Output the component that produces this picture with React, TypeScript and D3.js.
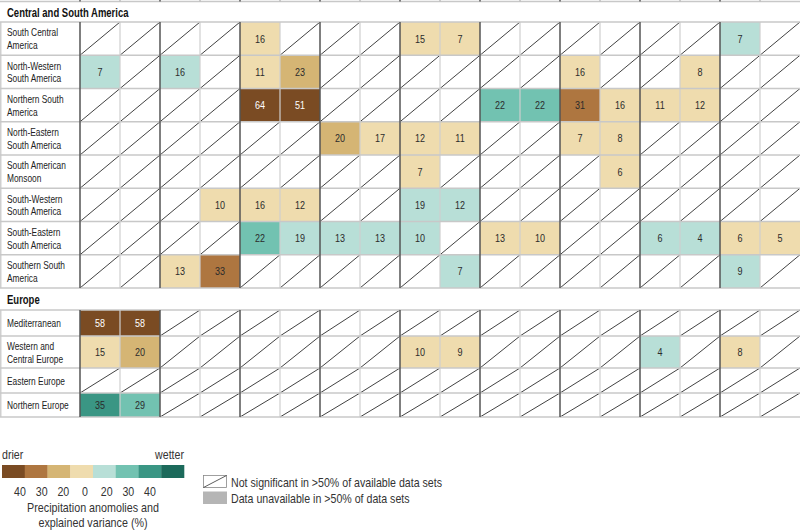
import React, { useEffect, useRef } from "react";
import * as d3 from "d3";

// signed values: negative = drier, positive = wetter, null = not significant
const southCentralAmerica = [null, null, null, null, -16, null, null, null, -15, -7, null, null, null, null, null, null, 7, null];
const northWesternSouthAmerica = [7, null, 16, null, -11, -23, null, null, null, null, null, null, -16, null, null, -8, null, null];
const northernSouthAmerica = [null, null, null, null, -64, -51, null, null, null, null, 22, 22, -31, -16, -11, -12, null, null];
const northEasternSouthAmerica = [null, null, null, null, null, null, -20, -17, -12, -11, null, null, -7, -8, null, null, null, null];
const southAmericanMonsoon = [null, null, null, null, null, null, null, null, -7, null, null, null, null, -6, null, null, null, null];
const southWesternSouthAmerica = [null, null, null, -10, -16, -12, null, null, 19, 12, null, null, null, null, null, null, null, null];
const southEasternSouthAmerica = [null, null, null, null, 22, 19, 13, 13, 10, null, -13, -10, null, null, 6, 4, -6, -5];
const southernSouthAmerica = [null, null, -13, -33, null, null, null, null, null, 7, null, null, null, null, null, null, 9, null];

const mediterranean = [-58, -58, null, null, null, null, null, null, null, null, null, null, null, null, null, null, null, null];
const westernCentralEurope = [-15, -20, null, null, null, null, null, null, -10, -9, null, null, null, null, 4, null, -8, null];
const easternEurope = [null, null, null, null, null, null, null, null, null, null, null, null, null, null, null, null, null, null];
const northernEurope = [35, 29, null, null, null, null, null, null, null, null, null, null, null, null, null, null, null, null];

const americaLabels = [
  ["South Central", "America"],
  ["North-Western", "South America"],
  ["Northern South", "America"],
  ["North-Eastern", "South America"],
  ["South American", "Monsoon"],
  ["South-Western", "South America"],
  ["South-Eastern", "South America"],
  ["Southern South", "America"],
];
const americaValues = [
  southCentralAmerica, northWesternSouthAmerica, northernSouthAmerica, northEasternSouthAmerica,
  southAmericanMonsoon, southWesternSouthAmerica, southEasternSouthAmerica, southernSouthAmerica,
];
const europeLabels = [["Mediterranean"], ["Western and", "Central Europe"], ["Eastern Europe"], ["Northern Europe"]];
const europeValues = [mediterranean, westernCentralEurope, easternEurope, northernEurope];

const legendTicks = ["40", "30", "20", "0", "20 ", "30 ", "40 "];

const dryColors = ["#efdcae", "#d5b574", "#ae7640", "#7a4b23"];
const wetColors = ["#b8dfd7", "#72c2b1", "#3a9684", "#1c6a5b"];

const FONT = "'Liberation Sans', Arial, sans-serif";

function App() {
  const svgRef = useRef<SVGSVGElement>(null);

  useEffect(() => {
    const W = 800;
    const H = 532;
    const svg = d3.select(svgRef.current);
    svg.selectAll("*").remove();
    svg.attr("width", W).attr("height", H).style("font-family", FONT);

    // condensed text: squeeze Liberation Sans horizontally
    const label = (
      parent: d3.Selection<any, unknown, null, undefined>,
      x: number, y: number, str: string | number,
      size: number, sx: number, anchor = "start", color = "#222", weight = "normal"
    ) =>
      parent.append("text")
        .attr("transform", `translate(${x},${y}) scale(${sx},1)`)
        .attr("font-size", size).attr("font-weight", weight)
        .attr("text-anchor", anchor).attr("fill", color).text(str);

    const x = d3.scaleBand<number>().domain(d3.range(18)).range([80, 800]);
    const bin = d3.scaleThreshold<number, number>().domain([20, 30, 40]).range([0, 1, 2, 3]);
    const fill = (v: number) => (v < 0 ? dryColors : wetColors)[bin(Math.abs(v))];

    // row bands
    const yAm = d3.scaleBand<number>().domain(d3.range(8)).range([22, 288]);
    const euEdges = [310, 336, 368, 393, 417];

    type Row = { label: string[]; values: (number | null)[]; y0: number; y1: number };
    const rows: Row[] = [
      ...americaLabels.map((l, i) => ({ label: l, values: americaValues[i], y0: yAm(i)!, y1: yAm(i)! + yAm.bandwidth() })),
      ...europeLabels.map((l, i) => ({ label: l, values: europeValues[i], y0: euEdges[i], y1: euEdges[i + 1] })),
    ];

    // top remnant of the previous panel
    svg.append("line").attr("x1", 0).attr("x2", W).attr("y1", 1.5).attr("y2", 1.5)
      .attr("stroke", "#c8c8c8").attr("stroke-width", 1.5);

    const g = svg.append("g");

    rows.forEach((r) => {
      const h = r.y1 - r.y0;
      r.values.forEach((v, c) => {
        const x0 = x(c)!;
        const x1 = x0 + x.bandwidth();
        if (v === null) {
          g.append("line").attr("x1", x0).attr("y1", r.y1).attr("x2", x1).attr("y2", r.y0)
            .attr("stroke", "#111").attr("stroke-width", 0.8);
        } else {
          g.append("rect").attr("x", x0).attr("y", r.y0).attr("width", x.bandwidth()).attr("height", h)
            .attr("fill", fill(v));
        }
      });
    });

    // thin vertical grid lines
    const sections = [[22, 288], [310, 417]];
    sections.forEach(([a, b]) => {
      d3.range(1, 18, 2).forEach((c) => {
        const xx = x(c)!;
        g.append("line").attr("x1", xx).attr("x2", xx).attr("y1", a).attr("y2", b)
          .attr("stroke", "#cfcfcf").attr("stroke-width", 1.2);
      });
      g.append("line").attr("x1", 0.75).attr("x2", 0.75).attr("y1", a).attr("y2", b)
        .attr("stroke", "#cfcfcf").attr("stroke-width", 1.5);
    });

    // horizontal lines
    const hLines = [22, ...rows.map((r) => r.y1), 310];
    Array.from(new Set(hLines)).forEach((yy) => {
      g.append("line").attr("x1", 0).attr("x2", W).attr("y1", yy).attr("y2", yy)
        .attr("stroke", "#c8c8c8").attr("stroke-width", 1.5);
    });

    // thick vertical lines every two columns
    sections.forEach(([a, b]) => {
      d3.range(0, 18, 2).forEach((c) => {
        const xx = x(c)!;
        g.append("line").attr("x1", xx).attr("x2", xx).attr("y1", a).attr("y2", b)
          .attr("stroke", "#555").attr("stroke-width", 1.5);
      });
    });
    d3.range(0, 18, 1).forEach((c) => {
      const xx = x(c)!;
      svg.append("line").attr("x1", xx).attr("x2", xx).attr("y1", 0).attr("y2", 1.5)
        .attr("stroke", c % 2 === 0 ? "#555" : "#bbb").attr("stroke-width", 1.5);
    });

    // cell numbers and row labels
    rows.forEach((r) => {
      const cy = (r.y0 + r.y1) / 2;
      r.values.forEach((v, c) => {
        if (v === null) return;
        label(g, x(c)! + x.bandwidth() / 2, cy + 4, Math.abs(v), 11, 0.82, "middle",
          Math.abs(v) >= 40 ? "#fff" : "#2b2b2b");
      });
      if (r.label.length === 2) {
        label(g, 7, cy - 2.2, r.label[0], 11, 0.76);
        label(g, 7, cy + 10.6, r.label[1], 11, 0.76);
      } else {
        label(g, 7, cy + 4, r.label[0], 11, 0.76);
      }
    });

    // section headers
    label(svg, 7, 16.8, "Central and South America", 12.5, 0.76, "start", "#111", "bold");
    label(svg, 7, 303.5, "Europe", 12.5, 0.76, "start", "#111", "bold");

    // colour legend
    const legendColors = [...dryColors].reverse().concat(wetColors);
    const lx = d3.scaleBand<number>().domain(d3.range(8)).range([2, 184]);
    const lg = svg.append("g");
    legendColors.forEach((col, i) => {
      lg.append("rect").attr("x", lx(i)!).attr("y", 465).attr("width", lx.bandwidth() + 0.3).attr("height", 13)
        .attr("fill", col);
    });
    label(lg, 2, 459, "drier", 12.5, 0.85, "start", "#333");
    label(lg, 184, 459, "wetter", 12.5, 0.85, "end", "#333");
    const tx = d3.scalePoint<string>().domain(legendTicks).range([20, 150]);
    legendTicks.forEach((t) => {
      label(lg, tx(t)!, 496, t.trim(), 12.5, 0.85, "middle", "#333");
    });
    label(lg, 93, 511.5, "Precipitation anomolies and", 12.5, 0.86, "middle", "#333");
    label(lg, 93, 527, "explained variance (%)", 12.5, 0.86, "middle", "#333");

    // pattern legend
    lg.append("rect").attr("x", 203.5).attr("y", 475.5).attr("width", 23).attr("height", 12)
      .attr("fill", "#fff").attr("stroke", "#888").attr("stroke-width", 0.8);
    lg.append("line").attr("x1", 203.5).attr("y1", 487.5).attr("x2", 226.5).attr("y2", 475.5)
      .attr("stroke", "#333").attr("stroke-width", 0.8);
    label(lg, 231, 486.5, "Not significant in >50% of available data sets", 12.5, 0.85, "start", "#333");
    lg.append("rect").attr("x", 203).attr("y", 491.5).attr("width", 24).attr("height", 12.5)
      .attr("fill", "#b5b5b5");
    label(lg, 231, 502.5, "Data unavailable in >50% of data sets", 12.5, 0.85, "start", "#333");
  }, []);

  return (
    <div style={{ position: "absolute", left: 0, top: 0 }}>
      <svg ref={svgRef} style={{ display: "block" }}></svg>
    </div>
  );
}

export default App;
